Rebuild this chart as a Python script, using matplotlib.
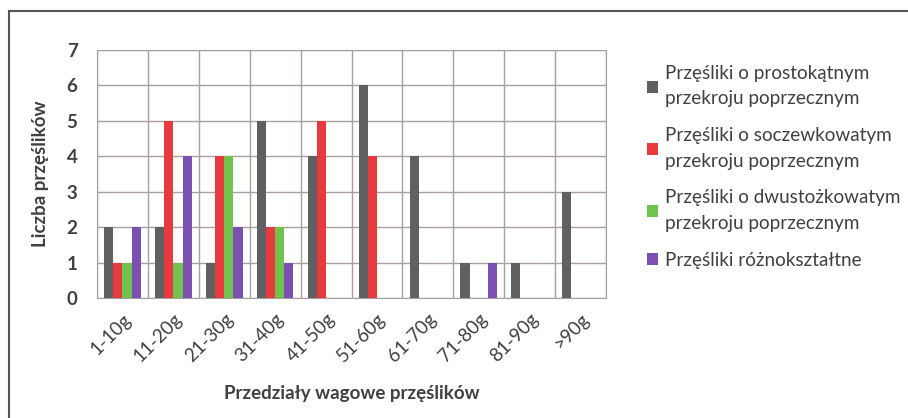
import matplotlib
matplotlib.use('Agg')
import matplotlib.pyplot as plt
import numpy as np
from matplotlib.patches import Patch
from matplotlib.lines import Line2D

plt.rcParams['font.family'] = ['Lato', 'DejaVu Sans']

categories = ['1-10g', '11-20g', '21-30g', '31-40g', '41-50g',
              '51-60g', '61-70g', '71-80g', '81-90g', '>90g']
prostokatny = [2, 2, 1, 5, 4, 6, 4, 1, 1, 3]
soczewkowaty = [1, 5, 4, 2, 5, 4, 0, 0, 0, 0]
dwustozkowaty = [1, 1, 4, 2, 0, 0, 0, 0, 0, 0]
roznoksztaltne = [2, 4, 2, 1, 0, 0, 0, 1, 0, 0]

series_labels = ['Przęśliki o prostokątnym\nprzekroju poprzecznym',
                 'Przęśliki o soczewkowatym\nprzekroju poprzecznym',
                 'Przęśliki o dwustożkowatym\nprzekroju poprzecznym',
                 'Przęśliki różnokształtne']
COLORS = ['#5f6061', '#e63a3e', '#72c24e', '#7b50b0']
TEXT = '#404040'
GRID = '#a8a09e'

fig = plt.figure(figsize=(9.08, 4.18), dpi=100)
ax = fig.add_axes([97/908, 1-298/418, 509/908, 248/418])

x = np.arange(len(categories))
w = 0.18
for i, vals in enumerate([prostokatny, soczewkowaty, dwustozkowaty, roznoksztaltne]):
	ax.bar(x + (i - 1.5)*w, vals, width=w, color=COLORS[i], zorder=3)

ax.set_xlim(-0.5, len(categories) - 0.5)
ax.set_ylim(0, 7)
ax.set_yticks(range(8))
ax.set_xticks(x)
ax.set_xticks(np.arange(-0.5, len(categories)), minor=True)
ax.grid(True, which='minor', axis='x', color=GRID, lw=1, zorder=0)
ax.grid(True, which='major', axis='y', color=GRID, lw=1, zorder=0)
ax.tick_params(which='both', length=0)
ax.tick_params(axis='y', labelsize=13.5, labelcolor=TEXT, pad=14)
ax.set_xticklabels(categories, rotation=45, ha='right', rotation_mode='anchor',
                   fontsize=13.5, color=TEXT)
ax.tick_params(axis='x', pad=9)
for s in ax.spines.values():
	s.set_color(GRID)
for lab in ax.get_yticklabels():
	lab.set_fontweight('bold')

ax.set_ylabel('Liczba przęślików', fontsize=13.5, fontweight='bold', color=TEXT, labelpad=13)
ax.set_xlabel('Przedziały wagowe przęślików', fontsize=13.5, fontweight='bold', color=TEXT, labelpad=14)

handles = [Patch(facecolor=c, edgecolor='none') for c in COLORS]
leg = fig.legend(handles, series_labels, loc='upper left', bbox_to_anchor=(630/908, 1-48/418),
                 frameon=False, fontsize=13.6, handlelength=0.6, handleheight=0.6,
                 handletextpad=0.35, labelspacing=1.05, labelcolor=TEXT)
for t in leg.get_texts():
	t.set_linespacing(1.6)

# frame of the figure (only left and top visible in the scan)
fig.add_artist(Line2D([9/908, 9/908], [0, 1-11/418], transform=fig.transFigure, color='#555555', lw=1.5))
fig.add_artist(Line2D([9/908, 1], [1-11/418, 1-11/418], transform=fig.transFigure, color='#555555', lw=1.5))

fig.savefig('out.png', dpi=100)
